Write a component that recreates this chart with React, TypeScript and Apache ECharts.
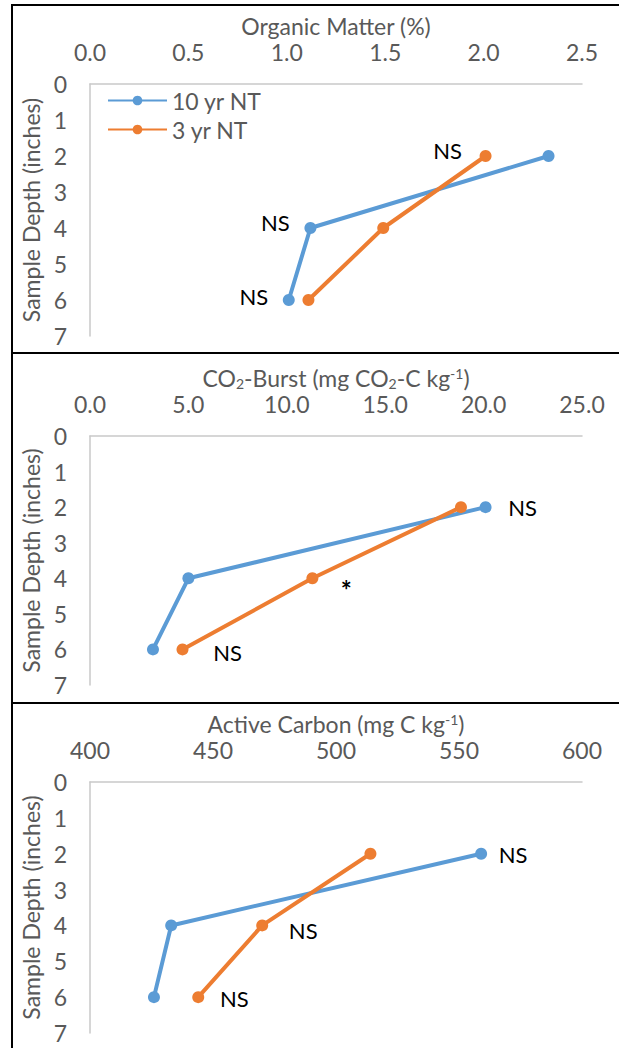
import React, { useEffect, useRef } from "react";
import * as echarts from "echarts";

const seriesNames = ["10 yr NT", "3 yr NT"];
const depths = [2, 4, 6];
const depthTicks = [0, 1, 2, 3, 4, 5, 6, 7];

const omTen = [2.33, 1.12, 1.01];
const omThree = [2.01, 1.49, 1.11];
const co2Ten = [20.1, 5.0, 3.2];
const co2Three = [18.85, 11.3, 4.7];
const acTen = [559, 433, 426];
const acThree = [514, 470, 444];

// significance notes: [panel, series index, depth, text]
const notes: [number, number, number, string][] = [
  [0, 1, 2, "NS"],
  [0, 0, 4, "NS"],
  [0, 0, 6, "NS"],
  [1, 0, 2, "NS"],
  [1, 1, 4, "*"],
  [1, 1, 6, "NS"],
  [2, 0, 2, "NS"],
  [2, 1, 4, "NS"],
  [2, 1, 6, "NS"],
];

// layout: label offsets from the point (px)
const noteOffsets: [number, number][] = [
  [-38, -6],
  [-35, -6],
  [-35, -4],
  [37, 0],
  [34, 12],
  [45, 3],
  [32, 1],
  [41, 5],
  [36, 1],
];

const FONT = "Lato, 'Open Sans', sans-serif";
const GRAY = "#595959";
const AXIS = "#C9C9C9";
const COLORS = ["#5B9BD5", "#ED7D31"];
const FS = 23;

const panels = [
  { title: "Organic Matter (%)", min: 0, max: 2.5, interval: 0.5, dec: 1, ten: omTen, three: omThree, top: 84, height: 252 },
  { title: "CO{sub|2}-Burst (mg CO{sub|2}-C kg{sup|-1})", min: 0, max: 25, interval: 5, dec: 1, ten: co2Ten, three: co2Three, top: 436, height: 249 },
  { title: "Active Carbon (mg C kg{sup|-1})", min: 400, max: 600, interval: 50, dec: 0, ten: acTen, three: acThree, top: 782, height: 251 },
];

export default function App() {
  const ref = useRef<HTMLDivElement>(null);
  useEffect(() => {
    if (!ref.current) return;
    const chart = echarts.init(ref.current, null, { renderer: "svg" });
    const grids: any[] = [];
    const xAxes: any[] = [];
    const yAxes: any[] = [];
    const series: any[] = [];
    panels.forEach((p, pi) => {
      grids.push({ left: 90, width: 492, top: p.top, height: p.height });
      xAxes.push({
        gridIndex: pi,
        type: "value",
        position: "top",
        min: p.min,
        max: p.max,
        interval: p.interval,
        name: p.title,
        nameLocation: "middle",
        nameGap: 46,
        nameTextStyle: {
          fontFamily: FONT,
          fontSize: FS,
          color: GRAY,
          lineHeight: 24,
          rich: {
            sub: { fontFamily: FONT, fontSize: 14, color: GRAY, verticalAlign: "bottom", lineHeight: 24 },
            sup: { fontFamily: FONT, fontSize: 14, color: GRAY, verticalAlign: "top", lineHeight: 24 },
          },
        },
        axisLine: { show: true, lineStyle: { color: AXIS, width: 1.5 } },
        axisTick: { show: false },
        splitLine: { show: false },
        axisLabel: {
          margin: 21,
          fontFamily: FONT,
          fontSize: FS,
          color: GRAY,
          formatter: (v: number) => v.toFixed(p.dec),
        },
      });
      yAxes.push({
        gridIndex: pi,
        type: "value",
        inverse: true,
        min: depthTicks[0],
        max: depthTicks[depthTicks.length - 1],
        interval: 1,
        name: "Sample Depth (inches)",
        nameLocation: "middle",
        nameGap: 44,
        nameTextStyle: { fontFamily: FONT, fontSize: FS, color: GRAY },
        axisLine: { show: true, lineStyle: { color: AXIS, width: 1.5 } },
        axisTick: { show: false },
        splitLine: { show: false },
        axisLabel: { margin: 23, fontFamily: FONT, fontSize: FS, color: GRAY },
      });
      [p.ten, p.three].forEach((vals, si) => {
        const data = vals.map((v, i) => {
          const d = depths[i];
          const ni = notes.findIndex((n) => n[0] === pi && n[1] === si && n[2] === d);
          const item: any = { value: [v, d] };
          if (ni >= 0) {
            const star = notes[ni][3] === "*";
            item.label = {
              show: true,
              formatter: notes[ni][3],
              position: "inside",
              offset: noteOffsets[ni],
              color: "#000",
              fontFamily: FONT,
              fontSize: star ? 26 : 22,
              fontWeight: star ? "bold" : "normal",
            };
          }
          return item;
        });
        series.push({
          name: seriesNames[si],
          type: "line",
          xAxisIndex: pi,
          yAxisIndex: pi,
          data,
          symbol: "circle",
          symbolSize: 12,
          color: COLORS[si],
          lineStyle: { width: 4, color: COLORS[si] },
          itemStyle: { color: COLORS[si] },
          label: { show: false },
          emphasis: { disabled: true },
        });
      });
    });

    const boxes = [
      { y: 5, h: 348 },
      { y: 353, h: 350 },
      { y: 703, h: 360 },
    ];

    chart.setOption({
      animation: false,
      backgroundColor: "#fff",
      grid: grids,
      xAxis: xAxes,
      yAxis: yAxes,
      series,
      legend: {
        data: seriesNames,
        orient: "vertical",
        left: 107,
        top: 89,
        padding: 0,
        itemWidth: 59,
        itemHeight: 12,
        itemGap: 6,
        textStyle: { fontFamily: FONT, fontSize: FS, color: GRAY },
        selectedMode: false,
      },
      graphic: boxes.map((b) => ({
        type: "rect",
        shape: { x: 12, y: b.y, width: 700, height: b.h },
        style: { fill: "none", stroke: "#000", lineWidth: 2 },
        silent: true,
      })),
    });
    return () => chart.dispose();
  }, []);
  return (
    <div
      ref={ref}
      style={{ position: "absolute", left: 0, top: 0, width: 619, height: 1048 }}
    />
  );
}
